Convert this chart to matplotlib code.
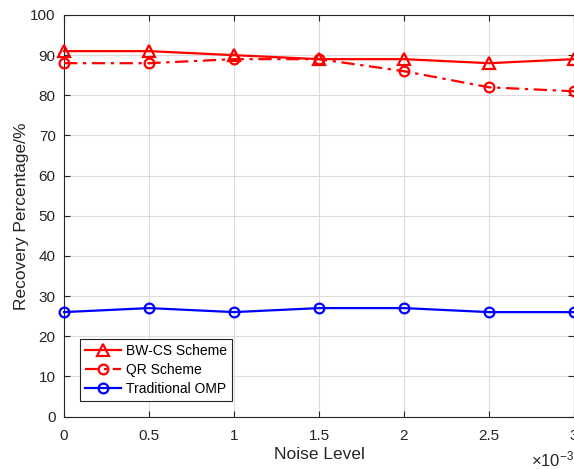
import matplotlib
matplotlib.use("Agg")
import matplotlib.pyplot as plt

plt.rcParams['font.family'] = ['Liberation Sans', 'DejaVu Sans']
plt.rcParams['mathtext.fontset'] = 'custom'
plt.rcParams['mathtext.rm'] = 'Liberation Sans'
plt.rcParams['mathtext.it'] = 'Liberation Sans'

# Noise level in units of 1e-3
noise = [0, 0.5, 1, 1.5, 2, 2.5, 3]
bwcs = [91, 91, 90, 89, 89, 88, 89]
qr = [88, 88, 89, 89, 86, 82, 81]
omp = [26, 27, 26, 27, 27, 26, 26]
xticks = [0, 0.5, 1, 1.5, 2, 2.5, 3]
xticklabels = ['0', '0.5', '1', '1.5', '2', '2.5', '3']
yticks = list(range(0, 101, 10))

fig = plt.figure(figsize=(5.74, 4.69), dpi=100)
ax = fig.add_axes([64/574, 52.5/469, 510/574, 401.5/469])

ax.plot(noise, bwcs, '-', color='red', lw=1.6, marker='^', ms=8.5,
        mfc='none', mew=1.6, label='BW-CS Scheme', clip_on=False, zorder=3)
ax.plot(noise, qr, color='red', lw=1.6, marker='o', ms=7, linestyle=(0, (6, 2.5, 1.5, 2.5)),
        mfc='none', mew=1.6, label='QR Scheme', clip_on=False, zorder=3)
ax.plot(noise, omp, '-', color='blue', lw=1.6, marker='o', ms=7,
        mfc='none', mew=1.6, label='Traditional OMP', clip_on=False, zorder=3)

ax.set_xlim(0, 3)
ax.set_ylim(0, 100)
ax.set_xticks(xticks)
ax.set_xticklabels(xticklabels)
ax.set_yticks(yticks)
ax.grid(True, color='#dcdcdc', lw=0.8)
ax.set_axisbelow(True)
ax.tick_params(direction='in', top=True, right=True, labelsize=11,
               colors='#262626', length=4, width=0.8)
ax.tick_params(axis='y', pad=6)
ax.tick_params(axis='x', pad=9)
for s in ax.spines.values():
    s.set_color('#262626')
    s.set_linewidth(0.8)

ax.set_xlabel('Noise Level', fontsize=12.5, color='#262626', labelpad=3)
ax.set_ylabel('Recovery Percentage/%', fontsize=12.5, color='#262626', labelpad=1)

fig.text(1.0, 0.0, r'$\times10^{-3}$', ha='right', va='bottom',
         fontsize=12, color='#262626')

leg = ax.legend(loc='lower left', bbox_to_anchor=(0.031, 0.039),
                fontsize=10, frameon=True, fancybox=False,
                edgecolor='#262626', framealpha=1, borderpad=0.35,
                handlelength=2.6, handletextpad=0.4, labelspacing=0.35,
                borderaxespad=0)
leg.get_frame().set_linewidth(0.8)

fig.savefig('out.png', dpi=100)
